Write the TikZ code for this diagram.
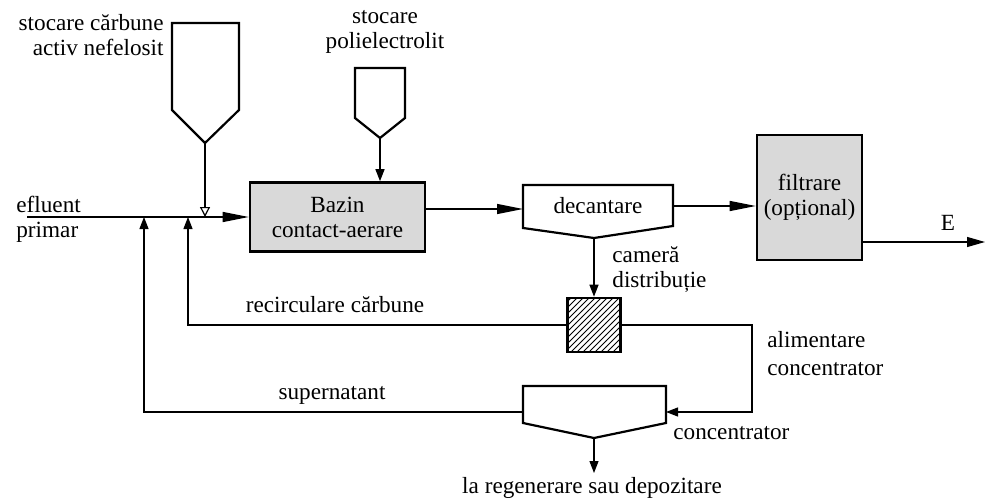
\documentclass[tikz,border=0pt]{standalone}
\usepackage{fontspec}
\setmainfont{Liberation Serif}
\usetikzlibrary{arrows.meta,patterns}

\begin{document}
\begin{tikzpicture}
  [
    x=0.5pt, y=-0.5pt,
    font=\fontsize{11.6}{12.5}\selectfont,
    unit/.style={draw=black, line width=1.3pt, fill=black!15,
      inner sep=0pt, align=center},
    tank/.style={draw=black, line width=1.1pt, line join=miter},
    ln/.style={draw=black, line width=0.6pt},
    big/.style={ln, -{Triangle[length=13pt,width=5pt]}},
    small/.style={ln, -{Triangle[length=6pt,width=4.5pt]}},
    tiny/.style={ln, -{Triangle[open,length=5pt,width=5pt]}},
    lbl/.style={inner sep=0pt, align=center}
  ]
  \useasboundingbox (0,0) rectangle (986,503);

  % storage hoppers
  \draw [tank] (172,23) -- (239,23) -- (239,110) -- (205,143) -- (172,110) -- cycle;
  \draw [tank] (355,68) -- (405,68) -- (405,118) -- (380,138) -- (355,118) -- cycle;
  \coordinate (hc) at (205,143);
  \coordinate (hp) at (380,138);

  % settling tanks
  \draw [tank] (523,185) -- (673,185) -- (673,226) -- (594,238) -- (523,228) -- cycle;
  \draw [tank] (523,386) -- (666,386) -- (666,423) -- (594,438) -- (523,423) -- cycle;
  \coordinate (decw) at (523,209);
  \coordinate (dece) at (673,206);
  \coordinate (decb) at (594,238);
  \coordinate (conce) at (666,412);
  \coordinate (concw) at (523,412);
  \coordinate (concb) at (594,438);

  \node (baz) at (337.5,217) [unit, minimum width=87.5pt, minimum height=34.5pt] {Bazin\\contact-aerare};
  \node (filt) at (809.5,197.5) [unit, minimum width=52.5pt, minimum height=62.5pt] {filtrare\\(opțional)};
  \node (cam) at (594,325) [draw=black, line width=1.3pt, pattern=north east lines,
    minimum width=26.5pt, minimum height=27pt] {};
  \node (dec) at (598,206) [lbl] {decantare};

  % free ends and junctions
  \coordinate (in) at (27,217);
  \coordinate (j1) at (144,217);
  \coordinate (j2) at (188,217);
  \coordinate (eout) at (985,242);
  \coordinate (turn) at (752,412);
  \coordinate (regen) at (594,473);

  % labels
  \node (lc) at (164,35) [lbl, anchor=east, align=right] {stocare cărbune\\activ nefelosit};
  \node (lp) at (385,32) [lbl] {stocare\\polielectrolit};
  \node (le) at (16,219) [lbl, anchor=west, align=left] {efluent\\primar};
  \node (lcam) at (612,270) [lbl, anchor=west, align=left] {cameră\\distribuție};
  \node (lal) at (767,354) [lbl, anchor=west, align=left, font=\fontsize{11.6}{14}\selectfont] {alimentare\\concentrator};
  \node (lcon) at (673,433) [lbl, anchor=west] {concentrator};
  \node (lreg) at (592,488) [lbl] {la regenerare sau depozitare};
  \node (lrec) at (335,305) [lbl] {recirculare cărbune};
  \node (lsup) at (332,395) [lbl] {supernatant};
  \node (lE) at (948,223) [lbl] {E};

  % flow lines
  \draw [big] (in) -- (in -| baz.west);
  \draw [tiny] (hc) -- (hc |- in);
  \draw [small] (hp) -- (hp |- baz.north);
  \draw [big] (baz.east |- decw) -- (decw);
  \draw [big] (dece) -- (dece -| filt.west);
  \draw [ln, -{Triangle[length=9pt,width=5pt]}] (filt.east |- eout) -- (eout);
  \draw [small] (cam.north |- decb) -- (cam.north);
  \draw [small] (cam.west) -| (j2);
  \draw [small] (cam.east) -| (turn) -- (conce);
  \draw [small] (concw) -| (j1);
  \draw [small] (concb) -- (regen);
\end{tikzpicture}
\end{document}
